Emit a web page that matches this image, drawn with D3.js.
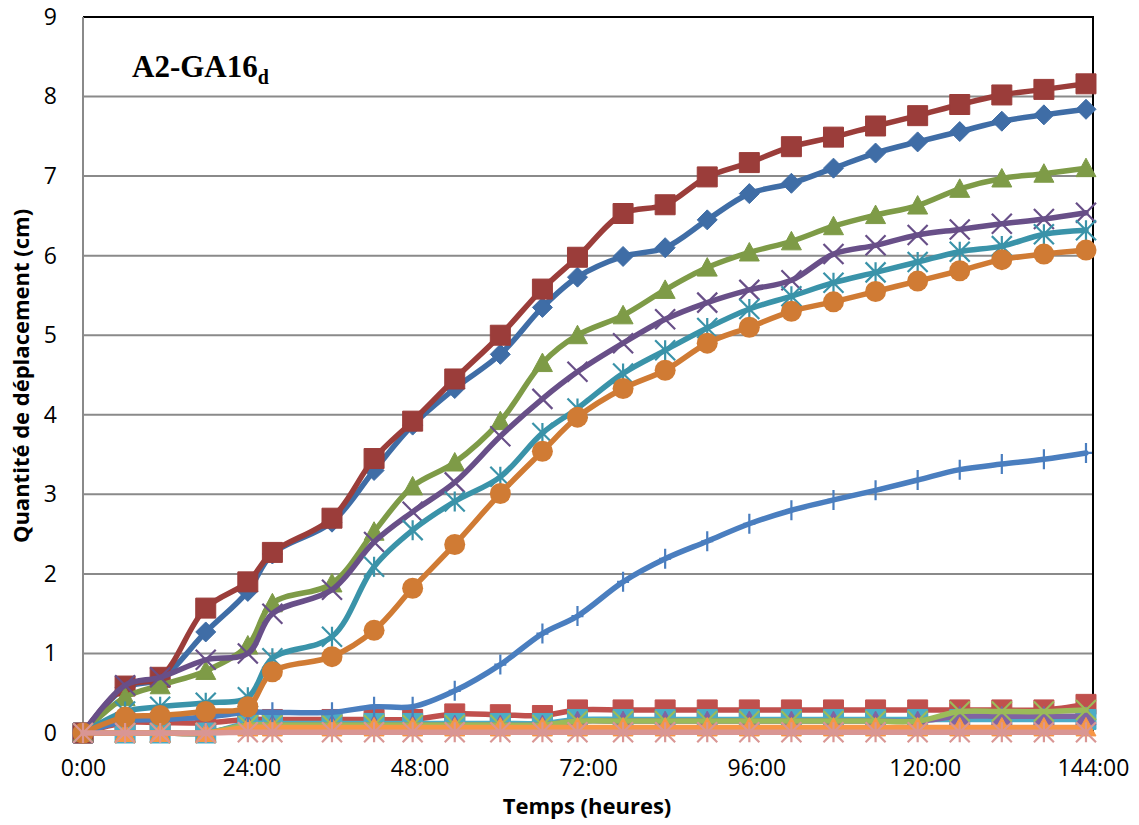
<!DOCTYPE html>
<html>
<head>
<meta charset="utf-8">
<script src="https://cdn.jsdelivr.net/npm/d3@7"></script>
<style>
  html, body { margin: 0; padding: 0; background: #fff; }
  svg { display: block; }
  .tick text { font-family: "Open Sans", sans-serif; font-size: 23px; fill: #000; }
</style>
</head>
<body>
<svg id="chart" width="1139" height="825"></svg>
<script>
// ---------- DATA ----------
const hours = [0, 6, 11, 17.5, 23.5, 27, 35.5, 41.5, 47, 53, 59.5, 65.5, 70.5, 77, 83, 89, 95, 101, 107, 113, 119, 125, 131, 137, 143];

const serieDiamond  = [0, 0.57, 0.68, 1.27, 1.78, 2.25, 2.65, 3.30, 3.87, 4.33, 4.76, 5.35, 5.73, 5.99, 6.10, 6.45, 6.78, 6.91, 7.10, 7.29, 7.43, 7.56, 7.69, 7.77, 7.84];
const serieSquare   = [0, 0.59, 0.70, 1.57, 1.90, 2.27, 2.70, 3.45, 3.92, 4.45, 5.00, 5.58, 5.98, 6.53, 6.64, 6.99, 7.17, 7.37, 7.49, 7.63, 7.76, 7.90, 8.02, 8.09, 8.16];
const serieTriangle = [0, 0.45, 0.60, 0.78, 1.10, 1.63, 1.88, 2.53, 3.10, 3.40, 3.92, 4.65, 5.00, 5.25, 5.57, 5.85, 6.04, 6.18, 6.37, 6.51, 6.63, 6.84, 6.97, 7.03, 7.10];
const serieCross    = [0, 0.60, 0.70, 0.92, 1.00, 1.50, 1.80, 2.40, 2.78, 3.15, 3.73, 4.20, 4.54, 4.90, 5.20, 5.41, 5.57, 5.69, 6.02, 6.13, 6.26, 6.33, 6.40, 6.46, 6.54];
const serieStar     = [0, 0.27, 0.33, 0.38, 0.45, 0.94, 1.21, 2.09, 2.55, 2.91, 3.22, 3.77, 4.08, 4.52, 4.81, 5.09, 5.33, 5.49, 5.66, 5.79, 5.92, 6.05, 6.12, 6.27, 6.32];
const serieCircle   = [0, 0.20, 0.22, 0.27, 0.33, 0.77, 0.96, 1.29, 1.82, 2.37, 3.01, 3.54, 3.97, 4.33, 4.56, 4.90, 5.10, 5.30, 5.42, 5.55, 5.68, 5.81, 5.95, 6.02, 6.07];
const seriePlus     = [0, 0.15, 0.17, 0.20, 0.26, 0.26, 0.26, 0.33, 0.33, 0.53, 0.86, 1.25, 1.47, 1.90, 2.19, 2.41, 2.63, 2.80, 2.93, 3.05, 3.18, 3.31, 3.38, 3.44, 3.52];

const serieLowRed    = [0, 0.13, 0.13, 0.13, 0.17, 0.17, 0.17, 0.17, 0.17, 0.24, 0.23, 0.22, 0.29, 0.29, 0.29, 0.29, 0.29, 0.29, 0.29, 0.29, 0.29, 0.29, 0.29, 0.29, 0.36];
const serieLowCyan   = [0, 0, 0, 0, 0.12, 0.12, 0.12, 0.12, 0.12, 0.12, 0.12, 0.12, 0.17, 0.17, 0.17, 0.17, 0.17, 0.17, 0.17, 0.17, 0.17, 0.17, 0.17, 0.17, 0.17];
const serieLowPurple = [0, 0, 0, 0, 0.10, 0.10, 0.10, 0.10, 0.10, 0.10, 0.10, 0.10, 0.15, 0.15, 0.15, 0.15, 0.15, 0.15, 0.15, 0.15, 0.15, 0.21, 0.21, 0.21, 0.21];
const serieLowGreen  = [0, 0, 0, 0, 0.10, 0.10, 0.10, 0.10, 0.10, 0.10, 0.10, 0.10, 0.15, 0.15, 0.15, 0.15, 0.15, 0.15, 0.15, 0.15, 0.15, 0.27, 0.27, 0.27, 0.29];
const serieLowOrange = [0, 0, 0, 0, 0.07, 0.07, 0.07, 0.07, 0.07, 0.07, 0.07, 0.07, 0.07, 0.07, 0.07, 0.07, 0.07, 0.07, 0.07, 0.07, 0.07, 0.07, 0.07, 0.07, 0.07];
const serieLowPink   = [0, 0, 0, 0, 0.01, 0.01, 0.01, 0.01, 0.01, 0.01, 0.01, 0.01, 0.01, 0.01, 0.01, 0.01, 0.01, 0.01, 0.01, 0.01, 0.01, 0.01, 0.01, 0.01, 0.01];

const xTickValues = [0, 24, 48, 72, 96, 120, 144];
const yTickValues = [0, 1, 2, 3, 4, 5, 6, 7, 8, 9];
const chartTitle = "A2-GA16";
const chartTitleSub = "d";
const xTitle = "Temps (heures)";
const yTitle = "Quantité de déplacement (cm)";

// series table (drawing order)
const series = [
  { values: serieLowRed,    color: "#C0504D", marker: "square" },
  { values: serieLowCyan,   color: "#4BACC6", marker: "square" },
  { values: serieLowPurple, color: "#8064A2", marker: "triangle" },
  { values: serieLowGreen,  color: "#9BBB59", marker: "cross" },
  { values: serieLowOrange, color: "#F79646", marker: "triangle" },
  { values: seriePlus,      color: "#4A7EBF", marker: "plus" },
  { values: serieDiamond,   color: "#3F6DA6", marker: "diamond" },
  { values: serieSquare,    color: "#9B3D3A", marker: "square" },
  { values: serieTriangle,  color: "#7E9B47", marker: "triangle" },
  { values: serieCross,     color: "#684F88", marker: "cross" },
  { values: serieStar,      color: "#3A93A9", marker: "star" },
  { values: serieCircle,    color: "#D07B34", marker: "circle" },
  { values: serieLowPink,   color: "#D99694", marker: "star" }
];

// ---------- CHART ----------
const svg = d3.select("#chart");
const pLeft = 83, pRight = 1093, pTop = 17, pBottom = 733;
const x = d3.scaleLinear().domain([0, 144]).range([pLeft, pRight]);
const y = d3.scaleLinear().domain([0, 9]).range([pBottom, pTop]);

// gridlines
svg.append("g").selectAll("line").data(yTickValues.filter(v => v > 0)).join("line")
  .attr("x1", pLeft).attr("x2", pRight)
  .attr("y1", d => y(d)).attr("y2", d => y(d))
  .attr("stroke", "#8a8a8a").attr("stroke-width", 2);

// plot border top/right
svg.append("line").attr("x1", pLeft).attr("x2", pRight + 1).attr("y1", pTop).attr("y2", pTop)
  .attr("stroke", "#000").attr("stroke-width", 2);
svg.append("line").attr("x1", pRight).attr("x2", pRight).attr("y1", pTop).attr("y2", pBottom)
  .attr("stroke", "#000").attr("stroke-width", 2);
svg.append("line").attr("x1", pLeft).attr("x2", pRight).attr("y1", pBottom).attr("y2", pBottom)
  .attr("stroke", "#8a8a8a").attr("stroke-width", 2);
svg.append("line").attr("x1", pLeft).attr("x2", pLeft).attr("y1", pTop).attr("y2", pBottom)
  .attr("stroke", "#8a8a8a").attr("stroke-width", 2);

// axes labels
const xAxis = d3.axisBottom(x).tickValues(xTickValues).tickSize(0).tickPadding(27)
  .tickFormat(h => h + ":00");
svg.append("g").attr("transform", `translate(0,${pBottom})`).call(xAxis)
  .call(g => g.select(".domain").remove());

const yAxis = d3.axisLeft(y).tickValues(yTickValues).tickSize(0).tickPadding(26)
  .tickFormat(d3.format("d"));
svg.append("g").attr("transform", `translate(${pLeft},0)`).call(yAxis)
  .call(g => g.select(".domain").remove());

// lines
const line = d3.line().curve(d3.curveCatmullRom.alpha(0.5));
const markerSize = 10;
function markerPath(type) {
  const r = markerSize;
  switch (type) {
    case "diamond": return `M0,${-r}L${r},0L0,${r}L${-r},0Z`;
    case "square": return `M${-r},${-r}H${r}V${r}H${-r}Z`;
    case "triangle": return `M0,${-r}L${r},${r*0.85}L${-r},${r*0.85}Z`;
    case "cross": return `M${-r},${-r}L${r},${r}M${-r},${r}L${r},${-r}`;
    case "star": return `M${-r},${-r}L${r},${r}M${-r},${r}L${r},${-r}M0,${-r}V${r}`;
    case "plus": return `M0,${-r}V${r}M${-r*0.6},0H${r*0.6}`;
    default: return "";
  }
}

series.forEach(s => {
  const pts = hours.map((h, i) => [x(h), y(s.values[i])]);
  const g = svg.append("g");
  g.append("path").attr("d", line(pts)).attr("fill", "none")
    .attr("stroke", s.color).attr("stroke-width", 5.5)
    .attr("stroke-linejoin", "round").attr("stroke-linecap", "round");
  const open = (s.marker === "cross" || s.marker === "star" || s.marker === "plus");
  if (s.marker === "circle") {
    g.selectAll("circle").data(pts).join("circle")
      .attr("cx", d => d[0]).attr("cy", d => d[1]).attr("r", 10.5)
      .attr("fill", s.color);
  } else {
    g.selectAll("path.m").data(pts).join("path").attr("class", "m")
      .attr("transform", d => `translate(${d[0]},${d[1]})`)
      .attr("d", markerPath(s.marker))
      .attr("fill", open ? "none" : s.color)
      .attr("stroke", s.color)
      .attr("stroke-width", open ? 2.2 : 1);
  }
});

// titles
const t = svg.append("text").attr("x", 132).attr("y", 77)
  .attr("font-family", "'Liberation Serif', 'Times New Roman', serif")
  .attr("font-weight", "bold").attr("font-size", 31).attr("fill", "#000");
t.append("tspan").text(chartTitle);
t.append("tspan").attr("font-size", 20).attr("dy", 7).text(chartTitleSub);

svg.append("text").attr("x", 587).attr("y", 814)
  .attr("text-anchor", "middle")
  .attr("font-family", "'Open Sans', sans-serif").attr("font-weight", "bold")
  .attr("font-size", 22).attr("fill", "#000").text(xTitle);

svg.append("text").attr("transform", "translate(29,376) rotate(-90)")
  .attr("text-anchor", "middle")
  .attr("font-family", "'Open Sans', sans-serif").attr("font-weight", "bold")
  .attr("font-size", 22).attr("fill", "#000").text(yTitle);
</script>
</body>
</html>
